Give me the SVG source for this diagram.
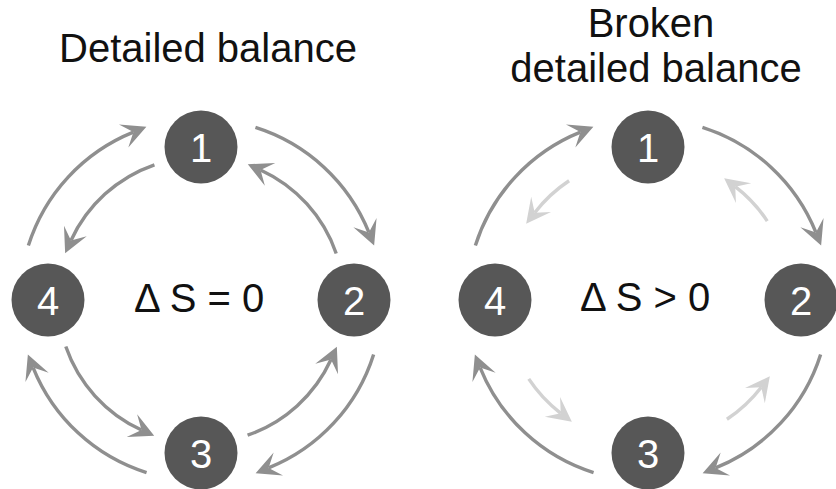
<svg xmlns="http://www.w3.org/2000/svg" width="836" height="489" viewBox="0 0 836 489">
  <style>
    .title { font-family: "Liberation Sans", Arial, sans-serif; font-size: 40px; fill: #111; text-anchor: middle; }
    .eq { font-family: "Liberation Sans", Arial, sans-serif; font-size: 40px; fill: #111; }
    .node circle { fill: #575757; }
    .node text { font-family: "Liberation Sans", Arial, sans-serif; font-size: 40px; fill: #fff; text-anchor: middle; }
    .arc { fill: none; stroke-width: 3.4; }
    .dark { stroke: #8f8f8f; }
    .light { stroke: #d2d2d2; }
  </style>
  <defs>
    <marker id="headDark" markerUnits="userSpaceOnUse" markerWidth="40" markerHeight="40" refX="0" refY="0" orient="auto" overflow="visible">
      <path d="M14,0 L-10.5,-12.5 L0,0 L-10.5,12.5 Z" fill="#8f8f8f"/>
    </marker>
    <marker id="headLight" markerUnits="userSpaceOnUse" markerWidth="40" markerHeight="40" refX="0" refY="0" orient="auto" overflow="visible">
      <path d="M14,0 L-10.5,-12.5 L0,0 L-10.5,12.5 Z" fill="#d2d2d2"/>
    </marker>
  </defs>

  <rect width="836" height="489" fill="#fff"/>

  <!-- titles -->
  <text class="title" x="208" y="62">Detailed balance</text>
  <text class="title" x="651" y="37">Broken</text>
  <text class="title" x="656" y="82">detailed balance</text>

  <!-- entropy labels -->
  <text class="eq" x="134" y="312">Δ S = 0</text>
  <text class="eq" x="580" y="311">Δ S &gt; 0</text>

  <!-- connectors -->
  <g id="connectors">
    <!-- left cycle: outer clockwise -->
    <path class="arc dark" marker-end="url(#headDark)" d="M373.62,354.43 A181,181 0 0 1 268.60,467.90"/>
    <path class="arc dark" marker-end="url(#headDark)" d="M146.57,472.62 A181,181 0 0 1 33.10,367.60"/>
    <path class="arc dark" marker-end="url(#headDark)" d="M28.38,245.57 A181,181 0 0 1 133.40,132.10"/>
    <path class="arc dark" marker-end="url(#headDark)" d="M255.43,127.38 A181,181 0 0 1 368.90,232.40"/>
    <!-- left cycle: inner counter-clockwise -->
    <path class="arc dark" marker-end="url(#headDark)" d="M247.56,435.21 A143,143 0 0 0 331.02,359.53"/>
    <path class="arc dark" marker-end="url(#headDark)" d="M65.79,346.56 A143,143 0 0 0 141.47,430.02"/>
    <path class="arc dark" marker-end="url(#headDark)" d="M154.44,164.79 A143,143 0 0 0 70.98,240.47"/>
    <path class="arc dark" marker-end="url(#headDark)" d="M336.21,253.44 A143,143 0 0 0 260.53,169.98"/>

    <!-- right cycle: outer clockwise -->
    <path class="arc dark" marker-end="url(#headDark)" d="M820.62,354.43 A181,181 0 0 1 715.60,467.90"/>
    <path class="arc dark" marker-end="url(#headDark)" d="M593.57,472.62 A181,181 0 0 1 480.10,367.60"/>
    <path class="arc dark" marker-end="url(#headDark)" d="M475.38,245.57 A181,181 0 0 1 580.40,132.10"/>
    <path class="arc dark" marker-end="url(#headDark)" d="M702.43,127.38 A181,181 0 0 1 815.90,232.40"/>
    <!-- right cycle: weak reverse flows -->
    <path class="arc light" marker-end="url(#headLight)" d="M726.93,419.25 A143,143 0 0 0 761.30,387.25"/>
    <path class="arc light" marker-end="url(#headLight)" d="M528.75,378.93 A143,143 0 0 0 560.75,413.30"/>
    <path class="arc light" marker-end="url(#headLight)" d="M569.07,180.75 A143,143 0 0 0 534.70,212.75"/>
    <path class="arc light" marker-end="url(#headLight)" d="M767.25,221.07 A143,143 0 0 0 735.25,186.70"/>
  </g>

  <!-- left cycle states -->
  <g id="L1" class="node"><circle cx="201" cy="147" r="36.5"/><text x="201" y="161.5">1</text></g>
  <g id="L2" class="node"><circle cx="354" cy="300" r="36.5"/><text x="354" y="314.5">2</text></g>
  <g id="L3" class="node"><circle cx="201" cy="453" r="36.5"/><text x="201" y="467.5">3</text></g>
  <g id="L4" class="node"><circle cx="48" cy="300" r="36.5"/><text x="48" y="314.5">4</text></g>

  <!-- right cycle states -->
  <g id="R1" class="node"><circle cx="648" cy="147" r="36.5"/><text x="648" y="161.5">1</text></g>
  <g id="R2" class="node"><circle cx="801" cy="300" r="36.5"/><text x="801" y="314.5">2</text></g>
  <g id="R3" class="node"><circle cx="648" cy="453" r="36.5"/><text x="648" y="467.5">3</text></g>
  <g id="R4" class="node"><circle cx="495" cy="300" r="36.5"/><text x="495" y="314.5">4</text></g>
</svg>
